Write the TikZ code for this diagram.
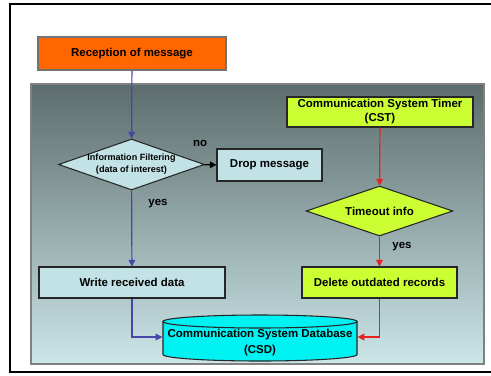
\documentclass[tikz,border=0pt]{standalone}
\usepackage{fontspec}
\setmainfont{Liberation Sans}
\usetikzlibrary{arrows.meta,shapes.geometric}
\definecolor{msgorange}{HTML}{FF6600}
\definecolor{timegreen}{HTML}{CCFF33}
\definecolor{pale}{HTML}{C2E2E6}
\definecolor{dbcyan}{HTML}{00F2F2}
\definecolor{flowblue}{HTML}{4646A8}
\definecolor{flowred}{HTML}{E82020}
\definecolor{paneltop}{HTML}{5C6C6C}
\definecolor{panelbot}{HTML}{CCE6E8}

\begin{document}
\begin{tikzpicture}[x=0.75pt,y=-0.75pt, every node/.style={font=\bfseries\fontsize{8.6}{10.5}\selectfont,align=center},
  box/.style={draw=black!85,line width=0.8pt,inner sep=0pt},
  pbox/.style={box,fill=pale}, gbox/.style={box,fill=timegreen},
  test/.style={shape=diamond,aspect=2.9,inner sep=0pt,draw=black!85,line width=0.8pt},
  flow/.style={-{Triangle[length=5pt,width=5pt]},line width=0.9pt}]
  \useasboundingbox (0,0) rectangle (491,375);
  \draw[line width=1.5pt] (493,4) -- (10,4) -- (10,372) -- (493,372);
  \shade[top color=paneltop,bottom color=panelbot,draw=gray,line width=0.8pt] (31,84) rectangle (484,364);
  % left branch
  \node[box,draw=black!55,fill=msgorange,minimum width=141pt,minimum height=24.75pt] (rec) at (132,53.5) {Reception of message};
  \node[test,fill=pale,inner sep=-1.5pt,minimum width=109.5pt,minimum height=38.25pt,font=\bfseries\fontsize{6.8}{9}\selectfont] (filt) at (131.5,164.5) {Information Filtering\\(data of interest)};
  \node[pbox,minimum width=78.75pt,minimum height=24pt] (drop) at (269.5,165) {Drop message};
  \node[pbox,minimum width=139.5pt,minimum height=23.25pt] (write) at (132,282.5) {Write received data};
  % right branch
  \node[gbox,minimum width=139.5pt,minimum height=22.5pt] (cst) at (380,112) {Communication System Timer\\(CST)};
  \node[test,fill=timegreen,minimum width=110pt,minimum height=37.5pt] (tout) at (379.5,211) {Timeout info};
  \node[gbox,minimum width=116.25pt,minimum height=23.25pt] (del) at (379.5,282.5) {Delete outdated records};
  % database drum
  \draw[fill=dbcyan,draw=black!85,line width=0.8pt] (163,321.5) -- (163,354.5) arc[start angle=180,end angle=0,x radius=97,y radius=6.5] -- (357,321.5) -- cycle;
  \draw[fill=dbcyan,draw=black!85,line width=0.8pt] (260,321.5) ellipse[x radius=97,y radius=6.5];
  \node[inner sep=0pt,minimum width=146pt,minimum height=34.5pt,font=\bfseries\fontsize{8.6}{12}\selectfont] (csd) at (260,343) {Communication System Database\\(CSD)};
  \node (no) at (200,143) {no};
  \node (yesl) at (158,204) {yes};
  \node (yesr) at (402,247) {yes};
  \draw[flow,flowblue] (rec) -- (filt);
  \draw[flow,black] (filt) -- (drop);
  \draw[flow,flowblue] (filt) -- (write);
  \draw[flow,flowblue] (write) |- ([yshift=4.5pt]csd.west);
  \draw[flow,flowred] (cst) -- (tout);
  \draw[flow,flowred] (tout) -- (del);
  \draw[flow,flowred] (del) |- ([yshift=4.5pt]csd.east);
\end{tikzpicture}
\end{document}
